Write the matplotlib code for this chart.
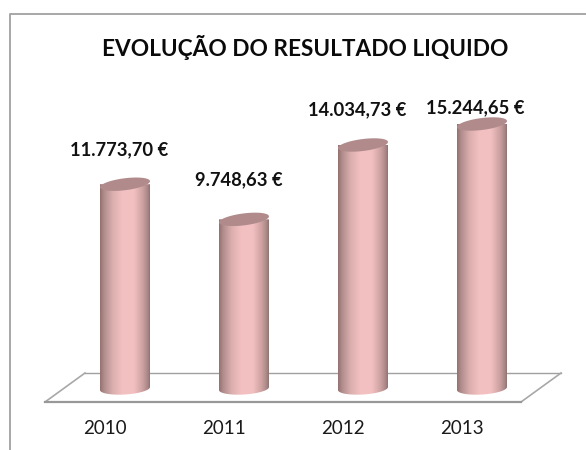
import matplotlib
matplotlib.use('Agg')
import matplotlib.pyplot as plt
import numpy as np
from matplotlib.colors import LinearSegmentedColormap
from matplotlib.patches import Polygon

years = ['2010', '2011', '2012', '2013']
values = [11773.70, 9748.63, 14034.73, 15244.65]
labels = ['11.773,70 €', '9.748,63 €', '14.034,73 €', '15.244,65 €']
title = 'EVOLUÇÃO DO RESULTADO LIQUIDO'

W, H = 586, 450
X0, X_STEP = 125, 119       # pixel centre of first bar, spacing
Y0, Y_SCALE = 388.5, 0.01735  # pixel of value 0, pixels per euro
BAR_W = 50

# where the labels sit relative to the bars (pixels)
label_dx = [-6, -5, -6, -7]
label_y = [150, 180, 110, 108]
year_dx = -20

plt.rcParams['font.family'] = ['Lato', 'DejaVu Sans']

fig = plt.figure(figsize=(W / 100, H / 100), dpi=100)
ax = fig.add_axes([0, 0, 1, 1])
ax.axis('off')


# data coords from pixels
def dx(px):
    return px / X_STEP


def dy(px):
    return px / Y_SCALE


def px_x(px):
    return (px - X0) / X_STEP


def px_y(px):
    return (Y0 - px) / Y_SCALE


# chart frame, only left and top show
ax.plot([px_x(9.5), px_x(9.5), px_x(W)], [px_y(H), px_y(13.5), px_y(13.5)], color='#a0a0a0', lw=1.3, zorder=1)

# floor
floor_x = [45, 85, 561, 521, 45]
floor_y = [402, 373, 373, 402, 402]
floor_lw = [1.2, 1.0, 1.2, 1.6]
floor_col = ['#a8a8a8', '#a0a0a0', '#a8a8a8', '#989898']
for k in range(4):
    ax.plot([px_x(floor_x[k]), px_x(floor_x[k + 1])], [px_y(floor_y[k]), px_y(floor_y[k + 1])],
            color=floor_col[k], lw=floor_lw[k], zorder=1)

cmap = LinearSegmentedColormap.from_list('cyl', [
    (0.0, '#94706f'), (0.08, '#b08c8c'), (0.25, '#dcaeae'), (0.45, '#f3c1c1'),
    (0.68, '#f2c0c0'), (0.85, '#cfa3a3'), (0.96, '#a98686'), (1.0, '#8f7474')])
grad = np.linspace(0, 1, 128).reshape(1, -1)
t = np.linspace(0, 2 * np.pi, 80)

for i, v in enumerate(values):
    half = dx(BAR_W / 2)
    # ellipse, skewed so it rises to the right
    ex = half * np.cos(t)
    ey = dy(6) * np.sin(t) + dy(3) * np.cos(t)

    # body: straight across the top, rounded bottom
    lower = t[t <= np.pi]
    bx = i + half * np.cos(lower)
    by = -dy(6) * np.sin(lower) + dy(1.5) * np.cos(lower)
    body = np.column_stack([np.r_[bx, i - half, i + half], np.r_[by, v, v]])
    body_patch = Polygon(body, closed=True, fc='none', ec='none')
    ax.add_patch(body_patch)
    im = ax.imshow(grad, extent=[i - half, i + half, px_y(400), v], cmap=cmap, aspect='auto', zorder=3,
                   interpolation='bilinear')
    im.set_clip_path(body_patch)

    ax.fill(i + ex, v + ey, color='#b18b8b', zorder=4, lw=0)

    ax.text(i + dx(label_dx[i]), px_y(label_y[i]), labels[i], ha='center', va='center', fontsize=13.2,
            fontweight='bold', color='#111111', zorder=5)
    ax.text(i + dx(year_dx), px_y(428), years[i], ha='center', va='center', fontsize=13.5, color='#1a1a1a', zorder=5)

ax.set_xlim((0 - X0) / X_STEP, (W - X0) / X_STEP)
ax.set_ylim((Y0 - H) / Y_SCALE, Y0 / Y_SCALE)

ax.text(px_x(305), px_y(47), title, ha='center', va='center', fontsize=16.3, fontweight='bold', color='#0a0a0a')

fig.savefig('out.png', dpi=100)
